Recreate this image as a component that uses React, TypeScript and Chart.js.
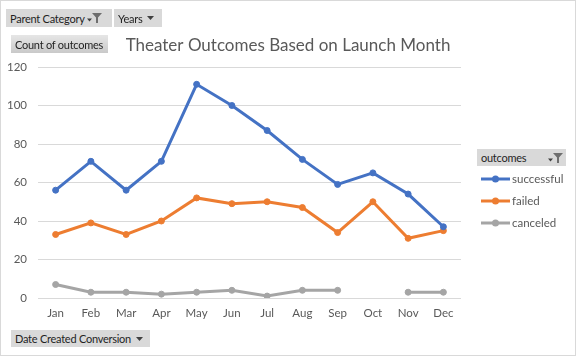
import React, { useEffect, useRef } from "react";
import { Chart, registerables } from "chart.js";

Chart.register(...registerables);

const months = ["Jan", "Feb", "Mar", "Apr", "May", "Jun", "Jul", "Aug", "Sep", "Oct", "Nov", "Dec"];
const successful = [56, 71, 56, 71, 111, 100, 87, 72, 59, 65, 54, 37];
const failed = [33, 39, 33, 40, 52, 49, 50, 47, 34, 50, 31, 35];
const canceled: (number | null)[] = [7, 3, 3, 2, 3, 4, 1, 4, 4, null, 3, 3];
const seriesNames = ["successful", "failed", "canceled"];
const seriesColors = ["#4472C4", "#ED7D31", "#A5A5A5"];
const yMin = 0;
const yMax = 120;
const yStep = 20;
const chartTitle = "Theater Outcomes Based on Launch Month";

const FONT = "Lato, 'Open Sans', sans-serif";

const overlayPlugin = {
  id: "overlay",
  afterDraw(chart: any) {
    const ctx = chart.ctx;
    ctx.save();
    // title
    ctx.font = `17px ${FONT}`;
    ctx.fillStyle = "#595959";
    ctx.textAlign = "center";
    ctx.textBaseline = "middle";
    ctx.fillText(chartTitle, 288, 46);
    // legend
    ctx.font = `11.5px ${FONT}`;
    ctx.textAlign = "left";
    chart.data.datasets.forEach((ds: any, i: number) => {
      const y = 179 + i * 22;
      ctx.strokeStyle = ds.borderColor;
      ctx.lineWidth = 3;
      ctx.beginPath();
      ctx.moveTo(481, y);
      ctx.lineTo(510, y);
      ctx.stroke();
      ctx.fillStyle = ds.borderColor;
      ctx.beginPath();
      ctx.arc(495.5, y, 3.5, 0, Math.PI * 2);
      ctx.fill();
      ctx.fillStyle = "#595959";
      ctx.fillText(ds.label, 512, y);
    });
    ctx.restore();
  },
};

function Funnel() {
  return (
    <svg width="15" height="10" style={{ marginLeft: 2, flexShrink: 0 }}>
      <polygon points="0,5.5 5,5.5 2.5,8.5" fill="#404040" />
      <polygon points="5,0 15,0 11,4.5 11,10 9,10 9,4.5" fill="#6e6e6e" />
    </svg>
  );
}

function Arrow() {
  return (
    <svg width="8" height="6" style={{ marginLeft: 5, flexShrink: 0 }}>
      <polygon points="0,1 7,1 3.5,5" fill="#404040" />
    </svg>
  );
}

function FieldButton(props: {
  left: number;
  top: number;
  width: number;
  height: number;
  label: string;
  arrow?: boolean;
  filter?: boolean;
  gradient?: boolean;
  justify?: string;
}) {
  const { left, top, width, height, label, arrow, filter, gradient, justify } = props;
  return (
    <div
      style={{
        position: "absolute",
        left,
        top,
        width,
        height,
        boxSizing: "border-box",
        background: gradient ? "linear-gradient(#e6e6e6, #c9c9c9)" : "#d9d9d9",
        display: "flex",
        alignItems: "center",
        justifyContent: justify || "flex-start",
        padding: "0 3px 0 4px",
        fontFamily: FONT,
        fontSize: 11,
        letterSpacing: "-0.25px",
        color: "#1f1f1f",
        whiteSpace: "nowrap",
        overflow: "hidden",
      }}
    >
      <span>{label}</span>
      {arrow && <Arrow />}
      {filter && <Funnel />}
    </div>
  );
}

export default function App() {
  const canvasRef = useRef<HTMLCanvasElement | null>(null);

  useEffect(() => {
    if (!canvasRef.current) return;
    const chart = new Chart(canvasRef.current, {
      type: "line",
      data: {
        labels: months,
        datasets: [successful, failed, canceled].map((d, i) => ({
          label: seriesNames[i],
          data: d,
          borderColor: seriesColors[i],
          backgroundColor: seriesColors[i],
          borderWidth: 3,
          pointRadius: 3,
          pointBorderWidth: 1,
          pointBackgroundColor: seriesColors[i],
          pointBorderColor: seriesColors[i],
          tension: 0,
          spanGaps: false,
        })),
      },
      options: {
        responsive: false,
        animation: false,
        devicePixelRatio: 1,
        layout: { padding: { top: 67, right: 115, bottom: 0, left: 0 } },
        plugins: {
          legend: { display: false },
          title: { display: false },
          tooltip: { enabled: false },
        },
        scales: {
          x: {
            type: "category",
            offset: true,
            grid: { display: false, drawTicks: false },
            border: { display: false },
            ticks: { color: "#595959", font: { size: 11.5, family: FONT }, padding: 8, maxRotation: 0 },
            afterFit: (s: any) => {
              s.height = 58;
            },
          },
          y: {
            min: yMin,
            max: yMax,
            grid: { color: "#d9d9d9", lineWidth: 1, drawTicks: false },
            border: { display: false },
            ticks: { stepSize: yStep, color: "#595959", font: { size: 11.5, family: FONT }, padding: 11 },
            afterFit: (s: any) => {
              s.width = 38;
            },
          },
        },
      },
      plugins: [overlayPlugin],
    } as any);
    return () => chart.destroy();
  }, []);

  return (
    <div style={{ position: "fixed", left: 0, top: 0, width: 576, height: 356, background: "#fff" }}>
      <canvas ref={canvasRef} width={576} height={356} style={{ display: "block", width: 576, height: 356 }} />
      <FieldButton left={6} top={9} width={106} height={18} label="Parent Category" filter />
      <FieldButton left={114} top={9} width={48} height={18} label="Years" arrow />
      <FieldButton left={11} top={35} width={97} height={18} label="Count of outcomes" gradient />
      <FieldButton left={11} top={330} width={139} height={17} label="Date Created Conversion" arrow />
      <FieldButton left={477} top={149} width={89} height={17} label="outcomes" filter justify="space-between" />
      <div
        style={{
          position: "absolute",
          left: 0,
          top: 0,
          width: 576,
          height: 356,
          boxSizing: "border-box",
          border: "1px solid #d9d9d9",
          pointerEvents: "none",
        }}
      />
    </div>
  );
}
